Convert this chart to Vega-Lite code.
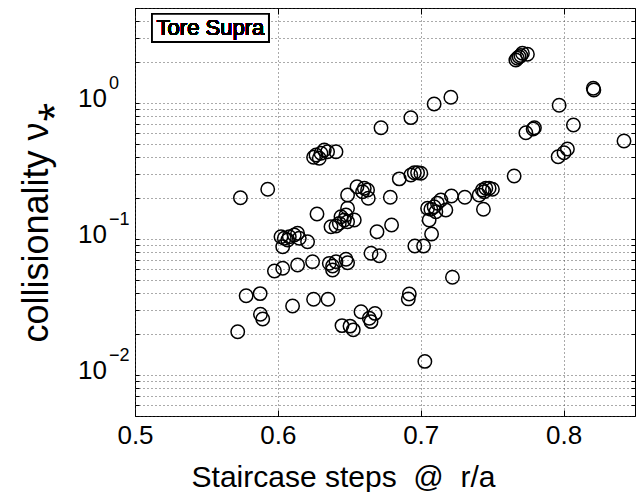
{
  "$schema": "https://vega.github.io/schema/vega-lite/v6.json",
  "autosize": {"type": "none"},
  "padding": {"left": 135, "top": 8, "right": 6, "bottom": 76},
  "width": 500,
  "height": 408,
  "background": "white",
  "config": {
    "view": {"stroke": "black", "strokeWidth": 1},
    "axis": {
      "labelFont": "Liberation Sans",
      "titleFont": "Liberation Sans",
      "labelColor": "black",
      "titleColor": "black",
      "tickColor": "black",
      "domain": false,
      "gridColor": "#444",
      "gridDash": [1, 3],
      "gridOpacity": 0.9,
      "gridWidth": 1
    }
  },
  "datasets": {
    "ylabels": [
      {"v": 1, "base": "10", "exp": "0"},
      {"v": 0.1, "base": "10", "exp": "−1"},
      {"v": 0.01, "base": "10", "exp": "−2"}
    ]
  },
  "data": {
    "values": [
      {"r": 0.7666, "nu": 2.073}, {"r": 0.7689, "nu": 2.192}, {"r": 0.7712, "nu": 2.322}, {"r": 0.7747, "nu": 2.284},
      {"r": 0.7677, "nu": 2.134}, {"r": 0.7701, "nu": 2.237}, {"r": 0.8208, "nu": 1.284}, {"r": 0.8212, "nu": 1.248},
      {"r": 0.7211, "nu": 1.103}, {"r": 0.7094, "nu": 0.984}, {"r": 0.7969, "nu": 0.963}, {"r": 0.6931, "nu": 0.781},
      {"r": 0.6722, "nu": 0.659}, {"r": 0.8069, "nu": 0.69}, {"r": 0.7736, "nu": 0.605}, {"r": 0.7787, "nu": 0.645},
      {"r": 0.7796, "nu": 0.659}, {"r": 0.8423, "nu": 0.526}, {"r": 0.8027, "nu": 0.459}, {"r": 0.8003, "nu": 0.4315},
      {"r": 0.7962, "nu": 0.4033}, {"r": 0.625, "nu": 0.3993}, {"r": 0.6267, "nu": 0.415}, {"r": 0.6302, "nu": 0.427},
      {"r": 0.6325, "nu": 0.4517}, {"r": 0.6348, "nu": 0.4389}, {"r": 0.6407, "nu": 0.4389}, {"r": 0.629, "nu": 0.3926},
      {"r": 0.685, "nu": 0.277}, {"r": 0.6931, "nu": 0.296}, {"r": 0.6955, "nu": 0.3076}, {"r": 0.6978, "nu": 0.3076},
      {"r": 0.7001, "nu": 0.3045}, {"r": 0.7654, "nu": 0.2909}, {"r": 0.5929, "nu": 0.2322}, {"r": 0.5738, "nu": 0.2014},
      {"r": 0.6488, "nu": 0.2109}, {"r": 0.6554, "nu": 0.2427}, {"r": 0.6605, "nu": 0.2362}, {"r": 0.6628, "nu": 0.2295},
      {"r": 0.6633, "nu": 0.1994}, {"r": 0.6593, "nu": 0.223}, {"r": 0.6787, "nu": 0.2028}, {"r": 0.7215, "nu": 0.2073},
      {"r": 0.7309, "nu": 0.2028}, {"r": 0.7409, "nu": 0.2109}, {"r": 0.7432, "nu": 0.2295}, {"r": 0.7456, "nu": 0.2362},
      {"r": 0.7479, "nu": 0.2362}, {"r": 0.7502, "nu": 0.2322}, {"r": 0.7444, "nu": 0.223}, {"r": 0.7048, "nu": 0.1684},
      {"r": 0.7071, "nu": 0.1656}, {"r": 0.7094, "nu": 0.173}, {"r": 0.7117, "nu": 0.1832}, {"r": 0.7141, "nu": 0.1937},
      {"r": 0.7176, "nu": 0.1636}, {"r": 0.7106, "nu": 0.159}, {"r": 0.7439, "nu": 0.1656}, {"r": 0.7059, "nu": 0.1381},
      {"r": 0.7076, "nu": 0.1089}, {"r": 0.6274, "nu": 0.1529}, {"r": 0.6488, "nu": 0.1684}, {"r": 0.6442, "nu": 0.146},
      {"r": 0.6465, "nu": 0.1381}, {"r": 0.6488, "nu": 0.1341}, {"r": 0.6535, "nu": 0.1381}, {"r": 0.643, "nu": 0.1305},
      {"r": 0.6372, "nu": 0.1233}, {"r": 0.6407, "nu": 0.1248}, {"r": 0.6477, "nu": 0.1503}, {"r": 0.6694, "nu": 0.1132},
      {"r": 0.6796, "nu": 0.1269}, {"r": 0.6022, "nu": 0.1041}, {"r": 0.6045, "nu": 0.1013}, {"r": 0.608, "nu": 0.1041},
      {"r": 0.6115, "nu": 0.1071}, {"r": 0.6138, "nu": 0.1103}, {"r": 0.615, "nu": 0.1013}, {"r": 0.6208, "nu": 0.0956},
      {"r": 0.6034, "nu": 0.0879}, {"r": 0.6069, "nu": 0.0984}, {"r": 0.6959, "nu": 0.0889}, {"r": 0.702, "nu": 0.0889},
      {"r": 0.6652, "nu": 0.0786}, {"r": 0.671, "nu": 0.0754}, {"r": 0.5976, "nu": 0.0582}, {"r": 0.6034, "nu": 0.061},
      {"r": 0.6138, "nu": 0.0645}, {"r": 0.6243, "nu": 0.0682}, {"r": 0.636, "nu": 0.0663}, {"r": 0.6383, "nu": 0.0634},
      {"r": 0.6383, "nu": 0.0592}, {"r": 0.6407, "nu": 0.0682}, {"r": 0.6477, "nu": 0.071}, {"r": 0.6488, "nu": 0.067},
      {"r": 0.7222, "nu": 0.0524}, {"r": 0.5778, "nu": 0.0383}, {"r": 0.5876, "nu": 0.0397}, {"r": 0.6103, "nu": 0.0322},
      {"r": 0.625, "nu": 0.0361}, {"r": 0.6351, "nu": 0.0361}, {"r": 0.692, "nu": 0.0395}, {"r": 0.6913, "nu": 0.0363},
      {"r": 0.5878, "nu": 0.028}, {"r": 0.5894, "nu": 0.0258}, {"r": 0.5719, "nu": 0.0208}, {"r": 0.6582, "nu": 0.0292},
      {"r": 0.668, "nu": 0.0284}, {"r": 0.6652, "nu": 0.0247}, {"r": 0.664, "nu": 0.0262}, {"r": 0.6449, "nu": 0.0231},
      {"r": 0.6505, "nu": 0.0229}, {"r": 0.6528, "nu": 0.0215}, {"r": 0.7029, "nu": 0.0126}
    ]
  },
  "layer": [
    {
      "mark": {"type": "point", "shape": "circle", "filled": false, "stroke": "black", "strokeWidth": 1.5, "size": 180, "opacity": 1},
      "encoding": {
        "x": {
          "field": "r", "type": "quantitative",
          "scale": {"domain": [0.5, 0.85], "nice": false, "zero": false},
          "axis": {
            "orient": "bottom",
            "values": [0.5, 0.6, 0.7, 0.8],
            "format": ".1f",
            "labelFontSize": 26,
            "tickSize": -6,
            "labelPadding": 12,
            "grid": true,
            "title": "Staircase steps\u00a0\u00a0@\u00a0\u00a0r/a",
            "titleFontSize": 30,
            "titleFontWeight": "normal",
            "titleX": 208,
            "titleY": 70,
            "titleAlign": "center",
            "titleBaseline": "alphabetic",
            "labelFlush": false
          }
        },
        "y": {
          "field": "nu", "type": "quantitative",
          "scale": {"type": "log", "domain": [0.005, 5], "nice": false},
          "axis": {
            "orient": "left",
            "values": [0.005, 0.006, 0.007, 0.008, 0.009, 0.01, 0.02, 0.03, 0.04, 0.05, 0.06, 0.07, 0.08, 0.09, 0.1, 0.2, 0.3, 0.4, 0.5, 0.6, 0.7, 0.8, 0.9, 1, 2, 3, 4, 5],
            "labels": false,
            "tickSize": -4,
            "grid": true,
            "title": "collisionality ν⁎",
            "titleFontSize": 36,
            "titleFontWeight": "normal",
            "titleAngle": -90,
            "titleX": -88,
            "titleY": 214,
            "titleAlign": "center",
            "titleBaseline": "alphabetic"
          }
        }
      }
    },
    {
      "mark": {"type": "point", "opacity": 0},
      "encoding": {
        "x": {
          "field": "r", "type": "quantitative",
          "axis": {"orient": "top", "values": [0.5, 0.6, 0.7, 0.8], "labels": false, "tickSize": -6, "grid": false, "title": null}
        },
        "y": {
          "field": "nu", "type": "quantitative",
          "axis": {
            "orient": "right",
            "values": [0.005, 0.006, 0.007, 0.008, 0.009, 0.01, 0.02, 0.03, 0.04, 0.05, 0.06, 0.07, 0.08, 0.09, 0.1, 0.2, 0.3, 0.4, 0.5, 0.6, 0.7, 0.8, 0.9, 1, 2, 3, 4, 5],
            "labels": false, "tickSize": -4, "grid": false, "title": null
          }
        }
      }
    },
    {
      "data": {"name": "ylabels"},
      "mark": {"type": "text", "font": "Liberation Sans", "fontSize": 26, "align": "left", "baseline": "middle", "color": "black", "dx": -57, "dy": -4},
      "encoding": {
        "x": {"datum": 0.5, "axis": null},
        "y": {"field": "v", "type": "quantitative", "axis": null},
        "text": {"field": "base"}
      }
    },
    {
      "data": {"name": "ylabels"},
      "mark": {"type": "text", "font": "Liberation Sans", "fontSize": 18, "align": "left", "baseline": "middle", "color": "black", "dx": -26, "dy": -19},
      "encoding": {
        "x": {"datum": 0.5, "axis": null},
        "y": {"field": "v", "type": "quantitative", "axis": null},
        "text": {"field": "exp"}
      }
    },
    {
      "mark": {"type": "rect", "fill": "white", "stroke": "black", "strokeWidth": 1.5},
      "encoding": {
        "x": {"datum": 0.512, "axis": null},
        "x2": {"datum": 0.5936},
        "y": {"datum": 4.52, "axis": null},
        "y2": {"datum": 2.82}
      }
    },
    {
      "mark": {"type": "text", "font": "Liberation Sans", "fontSize": 22, "align": "center", "baseline": "middle", "color": "black"},
      "encoding": {
        "x": {"datum": 0.5528, "axis": null},
        "y": {"datum": 3.56, "axis": null},
        "text": {"value": "Tore Supra"}
      }
    }
  ],
  "resolve": {"axis": {"x": "independent", "y": "independent"}}
}
